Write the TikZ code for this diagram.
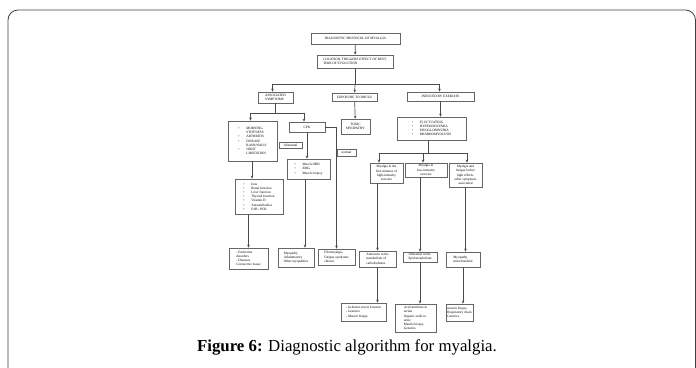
\documentclass[tikz,border=0pt]{standalone}
\usepackage{fontspec}
\setmainfont{Liberation Serif}
\usetikzlibrary{arrows.meta}

\newcommand{\itm}{\makebox[8pt][l]{\textbullet}}
\newcommand{\cnt}{\hspace*{8pt}}

\tikzset{
  box/.style={draw=black!60, line width=0.7pt, fill=white, align=left,
    inner sep=1pt, font=\fontsize{3.4}{4.2}\selectfont},
  link/.style={draw=black!70, line width=0.7pt},
  arr/.style={link, -{Stealth[length=3pt,width=2.6pt]}}
}

\begin{document}
\begin{tikzpicture}[x=1pt,y=-1pt]
  \useasboundingbox (0,0) rectangle (696,367);

  % Frame
  \draw[black!75, line width=0.8pt, rounded corners=10pt]
    (8,380) -- (8,10) -- (695.5,10) -- (695.5,380);

  % Top
  \node[box, minimum width=89pt, minimum height=11pt] (proto) at (355.5,38.5)
    {DIAGNOSTIC PROTOCOL OF MYALGIA};
  \node[box, minimum width=76pt, minimum height=13pt] (loc) at (355,61.5)
    {LOCATION, TRIGGERS EFFECT OF REST,\\TIME OF EVOLUTION};

  \node[box, minimum width=35pt, minimum height=11pt] (assoc) at (275.5,97.5)
    {ASSOCIATED\\SYMPTOMS};
  \node[box, minimum width=45pt, minimum height=8pt] (drugs) at (354.5,97)
    {EXPOSURE TO DRUGS};
  \node[box, minimum width=67pt, minimum height=9pt] (exer) at (440.5,96.5)
    {INDUCED BY EXERCISE};

  % Associated symptoms
  \node[box, minimum width=49pt, minimum height=40pt] (signs) at (252.5,141)
    {\itm MORNING\\\cnt STIFFNESS\\\itm ARTHRITIS\\\itm DISEASE\\\cnt RASH/NAILS\\\itm JOINT\\\cnt LIMITATION};
  \node[box, minimum width=36pt, minimum height=10pt] (cpk) at (307,127) {CPK};
  \node[box, minimum width=23pt, minimum height=6pt] (elev) at (290.5,145) {Abnormal};
  \node[box, minimum width=19pt, minimum height=7pt] (normal) at (346.5,152.5) {normal};
  \node[box, minimum width=43pt, minimum height=20pt] (tests) at (308.5,169)
    {\itm Muscle MRI\\\itm EMG\\\itm Muscle biopsy};
  \node[box, minimum width=48pt, minimum height=35pt] (labs) at (259,196.5)
    {\itm Ions\\\itm Renal function\\\itm Liver function\\\itm Thyroid function\\\itm Vitamin D\\\itm Autoantibodies\\\itm ESR / PCR};

  % Drugs
  \node[box, align=center, minimum width=29pt, minimum height=15pt] (toxic) at (355.5,126.5)
    {TOXIC\\MYOPATHY};

  % Exercise
  \node[box, minimum width=69pt, minimum height=23pt] (exlist) at (431.5,128.5)
    {\itm FLUCTUATING\\\itm HYPERURICEMIA\\\itm MYOGLOBINURIA\\\itm RHABDOMYOLYSIS};
  \node[box, align=center, minimum width=33pt, minimum height=20pt] (a) at (386.5,173)
    {Myalgia in the\\first minutes of\\high-intensity\\exercise};
  \node[box, align=center, minimum width=42pt, minimum height=14pt] (b) at (426,170)
    {Myalgia in\\low-intensity\\exercise};
  \node[box, align=center, minimum width=33pt, minimum height=24pt] (c) at (465.5,175)
    {Myalgia and\\fatigue before\\light efforts,\\other symptoms\\associated};

  % Lower row
  \node[box, minimum width=39pt, minimum height=21pt] (rheum) at (248.5,258.5)
    {- Endocrine\\disorders\\- Diseases\\Connective tissue};
  \node[box, minimum width=36pt, minimum height=19pt] (myop) at (296,257.5)
    {Myopathy\\inflammatory\\Other myopathies};
  \node[box, minimum width=37pt, minimum height=16pt] (fibro) at (336.5,257)
    {Fibromyalgia\\Fatigue syndrome\\chronic};
  \node[box, minimum width=37pt, minimum height=16pt] (carb) at (377.5,259)
    {Alteration in the\\metabolism of\\carbohydrates};
  \node[box, minimum width=34pt, minimum height=10pt] (lipid) at (420,257)
    {Alteration in the\\lipid metabolism};
  \node[box, minimum width=34pt, minimum height=15pt] (mito) at (463,259.5)
    {Myopathy\\mitochondrial};

  \node[box, minimum width=45pt, minimum height=18pt] (isch) at (363.5,312)
    {- Ischemic test in forearm\\- Genetics\\- Muscle biopsy};
  \node[box, minimum width=41pt, minimum height=28pt] (acyl) at (415.5,318)
    {Acylcarnitines in\\serum\\Organic acids in\\urine\\Muscle biopsy\\Genetics};
  \node[box, minimum width=27pt, minimum height=17pt] (resp) at (459.5,312.5)
    {muscle biopsy\\Respiratory chain\\Genetics};

  % Connectors
  \coordinate (j1) at (355,84);
  \coordinate (j2) at (275.5,113);
  \coordinate (j3) at (428,153);

  \draw[arr] (proto) -- (loc);
  \draw[link] (loc) -- (j1);
  \draw[arr] (j1) -| ([xshift=-3pt]assoc.north);
  \draw[arr] (j1) -- (drugs);
  \draw[arr] (j1) -| ([xshift=-1pt]exer.north);

  \draw[link] (assoc) -- (j2);
  \draw[arr] (j2) -| ([xshift=-2pt]signs.north);
  \draw[arr] (j2) -| ([xshift=-3pt]cpk.north);
  \draw[arr] (cpk.south) -- (cpk.south |- tests.north);
  \draw[arr] (cpk.east) -| (fibro.north);
  \draw[arr] ([xshift=-3.5pt]tests.south) -- ([xshift=-3.5pt]tests.south |- myop.north);
  \draw[arr] ([xshift=-0.5pt]signs.south) -- ([xshift=-0.5pt]signs.south |- labs.north);
  \draw[arr] (rheum.north |- labs.south) -- (rheum.north);

  \draw[arr] (drugs) -- (toxic);
  \draw[arr] (exer) -- (exer |- exlist.north);
  \draw[link] ([xshift=-3.5pt]exlist.south) -- (j3);
  \draw[arr] (j3) -| ([xshift=-7.5pt]a.north);
  \draw[arr] (j3) -| ([xshift=-3pt]b.north);
  \draw[arr] (j3) -| ([xshift=1.5pt]c.north);

  \draw[arr] (a.south -| carb.north) -- (carb.north);
  \draw[arr] (b.south -| lipid.north) -- (lipid.north);
  \draw[arr] (c.south) -- (c.south |- mito.north);
  \draw[arr] (carb.south) -- (carb.south |- isch.north);
  \draw[arr] (lipid.south) -- (lipid.south |- acyl.north);
  \draw[arr] (mito.south) -- (mito.south |- resp.north);

  % Caption
  \node[font=\fontsize{16.8}{20}\selectfont] (caption) at (347,347)
    {\textbf{Figure 6:} Diagnostic algorithm for myalgia.};
\end{tikzpicture}
\end{document}
